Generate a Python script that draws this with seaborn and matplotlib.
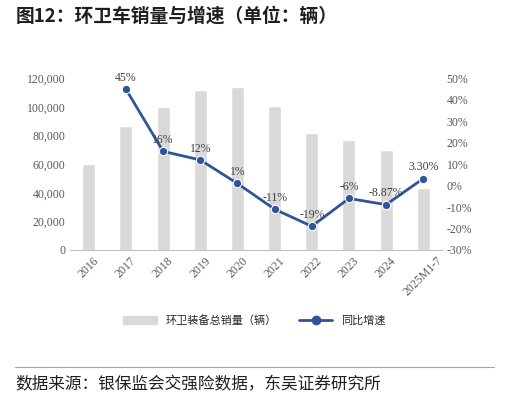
import matplotlib
matplotlib.use("Agg")
import matplotlib.pyplot as plt
import seaborn as sns
import pandas as pd
from matplotlib.patches import Patch
from matplotlib.lines import Line2D

years = ["2016", "2017", "2018", "2019", "2020", "2021", "2022", "2023", "2024", "2025M1-7"]
sales = [60000, 86500, 100000, 112000, 114000, 101000, 82000, 77000, 70000, 43500]
growth = [None, 45, 16, 12, 1, -11, -19, -6, -8.87, 3.30]
growth_labels = ["", "45%", "16%", "12%", "1%", "-11%", "-19%", "-6%", "-8.87%", "3.30%"]

sns.set_style("white")
plt.rcParams['font.family'] = ['Noto Sans CJK SC', 'DejaVu Sans']

df = pd.DataFrame({"year": years, "sales": sales, "growth": growth})

fig = plt.figure(figsize=(5.09, 4.03), dpi=100)
ax = fig.add_axes([0.138, 0.38, 0.73, 0.425])
sns.barplot(data=df, x="year", y="sales", color="#d9d9d9", width=0.35, ax=ax)
ax.set_ylim(0, 120000)
ax.set_yticks(range(0, 120001, 20000))
ax.set_yticklabels([f"{v:,}" for v in range(0, 120001, 20000)], fontsize=8.5,
                   family=['Liberation Serif'], color="#595959")
ax.set_xticks(range(len(years)))
ax.set_xticklabels(years, rotation=45, fontsize=8.5, family=['Liberation Serif'], color="#595959")
ax.set_xlabel("")
ax.set_ylabel("")
for s in ["top", "right", "left"]:
    ax.spines[s].set_visible(False)
ax.spines["bottom"].set_color("#bfbfbf")
ax.tick_params(length=0)

ax2 = ax.twinx()
d2 = df.dropna()
idx = [years.index(y) for y in d2["year"]]
sns.lineplot(x=idx, y=d2["growth"].values, color="#2f5597", marker="o", markersize=6,
             linewidth=2, ax=ax2)
ax2.set_ylim(-30, 50)
ax2.set_yticks(range(-30, 51, 10))
ax2.set_yticklabels([f"{v}%" for v in range(-30, 51, 10)], fontsize=8.5,
                    family=['Liberation Serif'], color="#595959")
ax2.set_ylabel("")
for s in ["top", "right", "left", "bottom"]:
    ax2.spines[s].set_visible(False)
ax2.tick_params(length=0)
ax2.set_xlim(-0.5, len(years) - 0.5)
for i, (g, lab) in enumerate(zip(growth, growth_labels)):
    if g is None:
        continue
    ax2.annotate(lab, (i, g), xytext=(0, 6), textcoords="offset points", ha="center",
                 fontsize=8.5, family=['Liberation Serif'], color="#404040")

handles = [Patch(color="#d9d9d9", label="环卫装备总销量（辆）"),
           Line2D([], [], color="#2f5597", marker="o", linewidth=2, label="同比增速")]
fig.legend(handles=handles, loc="center", bbox_to_anchor=(0.5, 0.205), ncol=2,
           frameon=False, fontsize=8, handlelength=3, columnspacing=2)

fig.text(0.03, 0.96, "图12：环卫车销量与增速（单位：辆）", fontsize=13.5, fontweight="bold",
         color="#1f1f1f", va="center")
fig.add_artist(Line2D([0.03, 0.97], [0.09, 0.09], color="#a6a6a6", linewidth=0.8))
fig.text(0.03, 0.045, "数据来源：银保监会交强险数据，东吴证券研究所", fontsize=12,
         color="#1f1f1f", va="center")

fig.savefig("out.png", dpi=100)
